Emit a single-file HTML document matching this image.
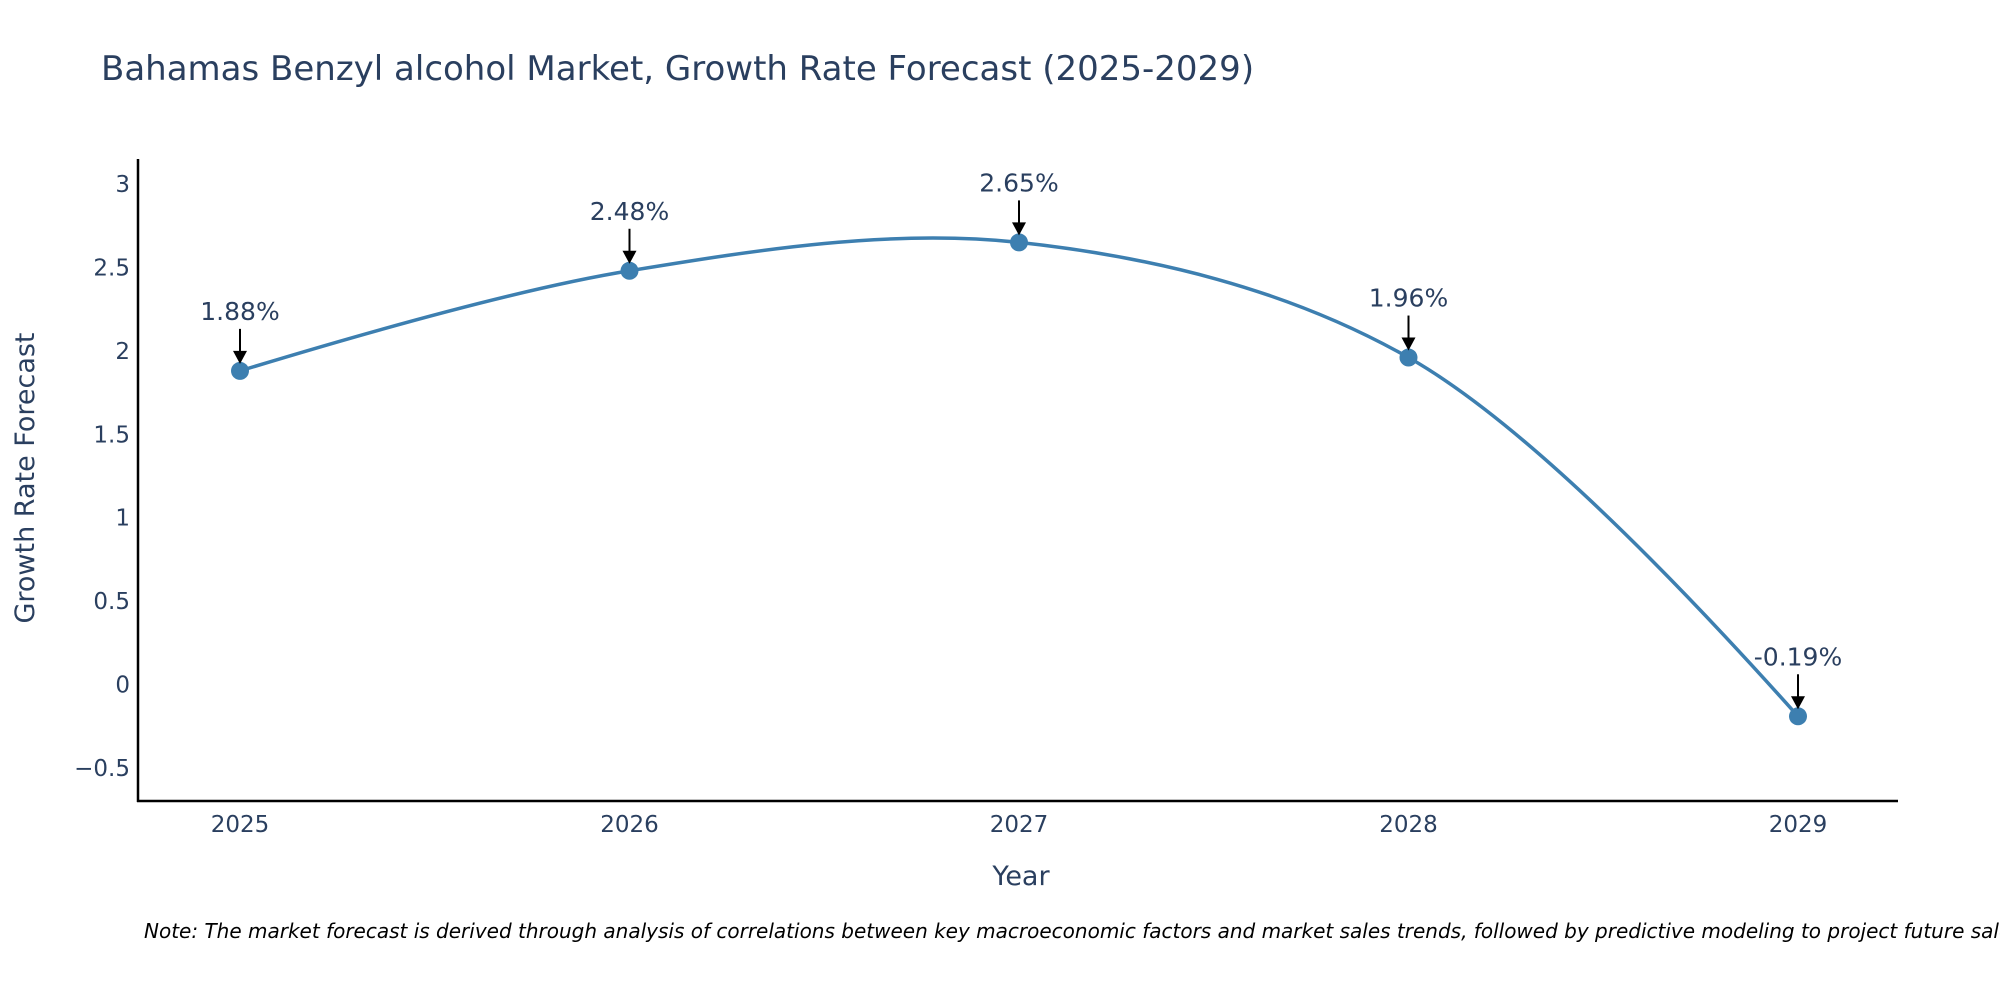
<!DOCTYPE html>
<html><head><meta charset="utf-8"><style>
html,body{margin:0;padding:0;background:#fff;}
svg{display:block;font-family:"DejaVu Sans","Liberation Sans",sans-serif;}
</style></head><body>
<svg id="chart" width="2000" height="1000" viewBox="0 0 2000 1000">
<text x="101" y="80" font-size="34" fill="#2a3f5f">Bahamas Benzyl alcohol Market, Growth Rate Forecast (2025-2029)</text>
<g id="yticks"></g>
<g id="xticks"></g>
<line x1="138" y1="159" x2="138" y2="802" stroke="#000" stroke-width="2.5"/>
<line x1="137" y1="801" x2="1898" y2="801" stroke="#000" stroke-width="2.5"/>
<text x="0" y="0" transform="translate(34,478) rotate(-90)" text-anchor="middle" font-size="27" fill="#2a3f5f">Growth Rate Forecast</text>
<text x="1021" y="885" text-anchor="middle" font-size="27" fill="#2a3f5f">Year</text>
<path id="line" fill="none" stroke="#3d7fb0" stroke-width="3.5"/>
<g id="points"></g>
<g id="annots"></g>
<text x="144" y="938" font-size="20" font-style="italic" fill="#000">Note: The market forecast is derived through analysis of correlations between key macroeconomic factors and market sales trends, followed by predictive modeling to project future sales.</text>
</svg>
<script>
const years = [2025, 2026, 2027, 2028, 2029];
const growth = [1.88, 2.48, 2.65, 1.96, -0.19];
const labels = ["1.88%", "2.48%", "2.65%", "1.96%", "-0.19%"];
const yTicks = [3, 2.5, 2, 1.5, 1, 0.5, 0, -0.5];
const yTickLabels = ["3", "2.5", "2", "1.5", "1", "0.5", "0", "\u22120.5"];

const NS = "http://www.w3.org/2000/svg";
function xs(i){ return 240 + i * (1798 - 240) / (years.length - 1); }
function ys(v){ return 768 + (v - (-0.5)) * (184 - 768) / 3.5; }
function mk(tag, attrs, parent){ const e = document.createElementNS(NS, tag); for (const k in attrs) e.setAttribute(k, attrs[k]); parent.appendChild(e); return e; }

const yg = document.getElementById('yticks');
yTicks.forEach((t, i) => {
  const el = mk('text', {x: 130, y: ys(t) + 8, 'text-anchor': 'end', 'font-size': 23, fill: '#2a3f5f'}, yg);
  
  
  el.textContent = yTickLabels[i];
});
const xg = document.getElementById('xticks');
years.forEach((y, i) => {
  const el = mk('text', {x: xs(i), y: 832, 'text-anchor': 'middle', 'font-size': 23, fill: '#2a3f5f'}, xg);
  
  
  el.textContent = String(y);
});

const pts = growth.map((v, i) => [xs(i), ys(v)]);
function makeTangent(p0, p1, p2, s) {
  const d1x = p0[0]-p1[0], d1y = p0[1]-p1[1], d2x = p2[0]-p1[0], d2y = p2[1]-p1[1];
  const d1a = Math.pow(d1x*d1x + d1y*d1y, 0.25), d2a = Math.pow(d2x*d2x + d2y*d2y, 0.25);
  const numx = (d2a*d2a*d1x - d1a*d1a*d2x) * s, numy = (d2a*d2a*d1y - d1a*d1a*d2y) * s;
  const den1 = 3*d2a*(d1a+d2a), den2 = 3*d1a*(d1a+d2a);
  return [[p1[0]+numx/den1, p1[1]+numy/den1], [p1[0]-numx/den2, p1[1]-numy/den2]];
}
const tg = [];
for (let i = 1; i < pts.length - 1; i++) tg.push(makeTangent(pts[i-1], pts[i], pts[i+1], 1));
let d = 'M' + pts[0].join(',') + ' Q' + tg[0][0].join(',') + ' ' + pts[1].join(',');
for (let i = 2; i < pts.length - 1; i++) d += ' C' + tg[i-2][1].join(',') + ' ' + tg[i-1][0].join(',') + ' ' + pts[i].join(',');
d += ' Q' + tg[tg.length-1][1].join(',') + ' ' + pts[pts.length-1].join(',');
document.getElementById('line').setAttribute('d', d);

const pg = document.getElementById('points');
const ag = document.getElementById('annots');
pts.forEach((p, i) => {
  const c = mk('circle', {cx: p[0], cy: p[1], r: 9, fill: '#3d7fb0'}, pg);
  
  
  const l = mk('line', {x1: p[0], y1: p[1] - 42, x2: p[0], y2: p[1] - 18, stroke: '#000', 'stroke-width': 2}, ag);
  
  
  const h = mk('polygon', {points: (p[0]-7)+','+(p[1]-20)+' '+(p[0]+7)+','+(p[1]-20)+' '+p[0]+','+(p[1]-7), fill: '#000'}, ag);
  
  
  const t = mk('text', {x: p[0], y: p[1] - 51, 'text-anchor': 'middle', 'font-size': 25, fill: '#2a3f5f'}, ag);
  
  
  t.textContent = labels[i];
});
</script>
</body></html>
